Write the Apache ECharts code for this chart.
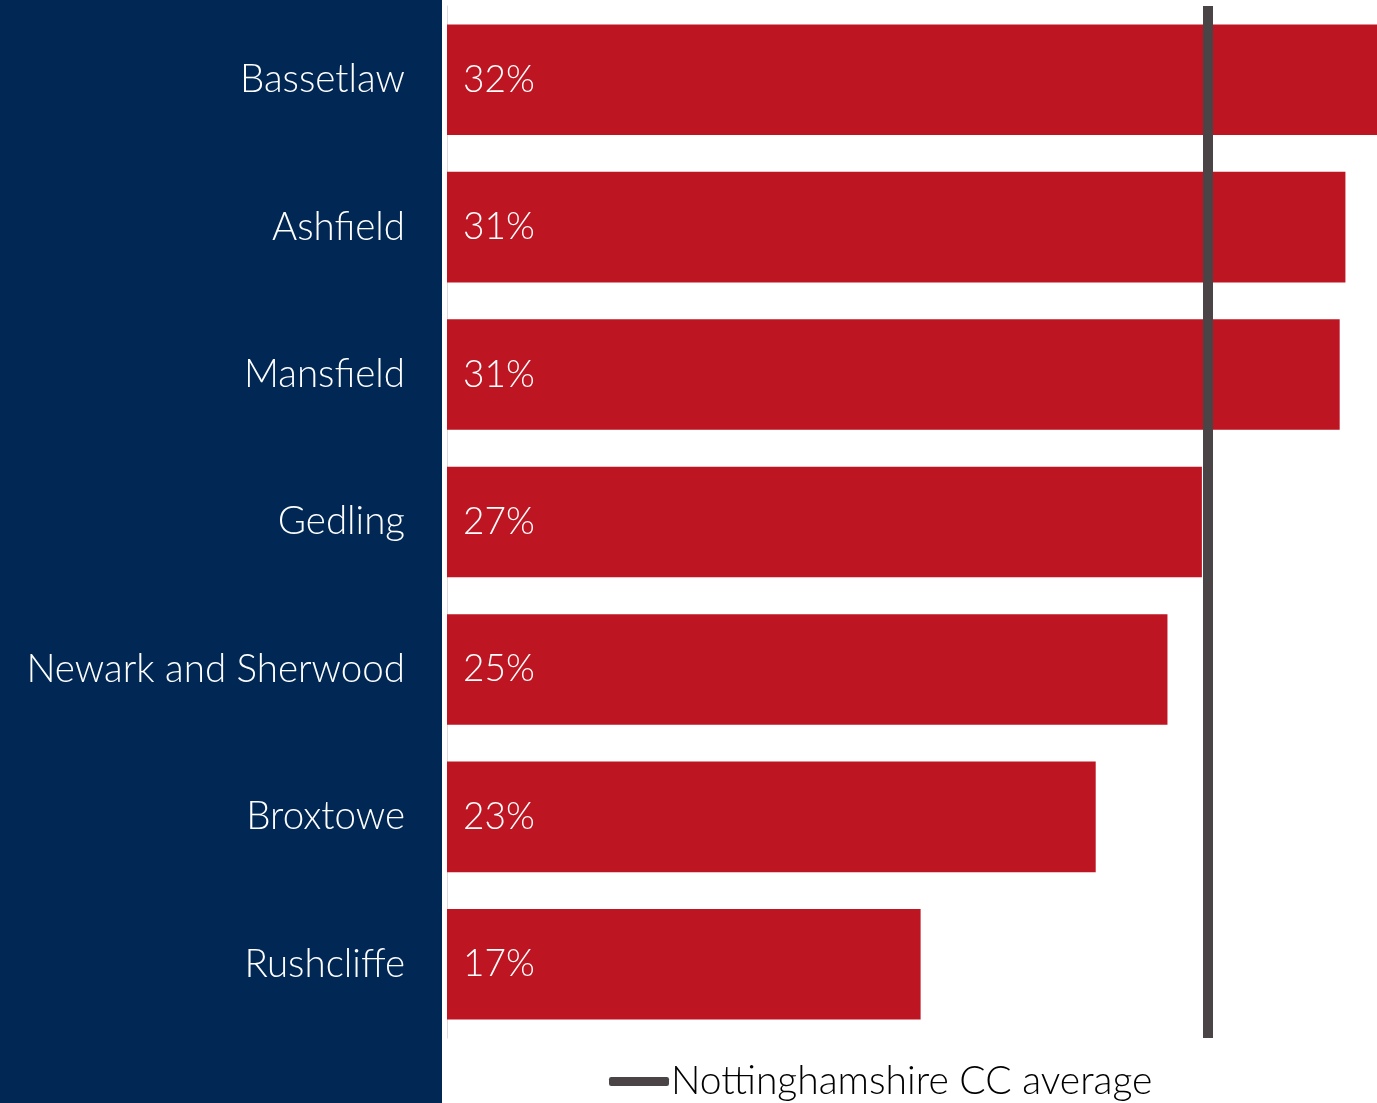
<!DOCTYPE html>
<html>
<head>
<meta charset="utf-8">
<script src="https://cdn.jsdelivr.net/npm/echarts@6/dist/echarts.min.js"></script>
<style>
  html, body { margin: 0; padding: 0; background: #fff; }
  #chart { width: 1377px; height: 1103px; }
</style>
</head>
<body>
<div id="chart"></div>
<script>
// districts, top to bottom
var districts = ['Bassetlaw', 'Ashfield', 'Mansfield', 'Gedling', 'Newark and Sherwood', 'Broxtowe', 'Rushcliffe'];
// bar lengths (%)
var barValues = [32.4, 31.3, 31.1, 26.3, 25.1, 22.6, 16.5];
// percentages printed on the bars
var shownPct = [32, 31, 31, 27, 25, 23, 17];
// county average
var countyAvg = 26.5;
var avgName = 'Nottinghamshire CC average';

var myChart = echarts.init(document.getElementById('chart'));

var option = {
	animation: false,
	textStyle: { fontFamily: 'Lato' },
	graphic: [{
		type: 'rect',
		left: 0, top: 0, z: -10,
		shape: { width: 442, height: 1103 },
		style: { fill: '#012855' }
	}],
	grid: { left: 447, right: 0, top: 6, height: 1032 },
	legend: {
		left: 609, top: 1062,
		padding: 0,
		itemWidth: 60, itemHeight: 9, itemGap: 10,
		icon: 'roundRect',
		textStyle: { fontSize: 39, color: '#000', fontFamily: 'Lato', fontWeight: 300, padding: [0, 0, 0, -3] },
		data: [avgName]
	},
	xAxis: {
		type: 'value', min: 0, max: barValues[0],
		show: false
	},
	yAxis: {
		type: 'category', inverse: true,
		data: districts,
		axisTick: { show: false },
		axisLine: { show: true, lineStyle: { color: '#dedada', width: 1 } },
		axisLabel: { color: '#fff', fontSize: 38.5, fontWeight: 300, margin: 42 }
	},
	series: [{
		type: 'bar',
		data: barValues,
		barCategoryGap: '25%',
		itemStyle: { color: '#BD1622' },
		label: {
			show: true, position: 'insideLeft', distance: 16,
			color: '#fff', fontSize: 37, fontWeight: 300,
			formatter: function (p) { return shownPct[p.dataIndex] + '%'; }
		}
	}, {
		name: avgName,
		type: 'line',
		data: [],
		itemStyle: { color: '#4a4446' },
		lineStyle: { color: '#4a4446', width: 10 },
		markLine: {
			silent: true,
			symbol: 'none',
			label: { show: false },
			lineStyle: { color: '#4a4446', width: 10, type: 'solid' },
			data: [{ xAxis: countyAvg }]
		}
	}]
};

myChart.setOption(option);
</script>
</body>
</html>
